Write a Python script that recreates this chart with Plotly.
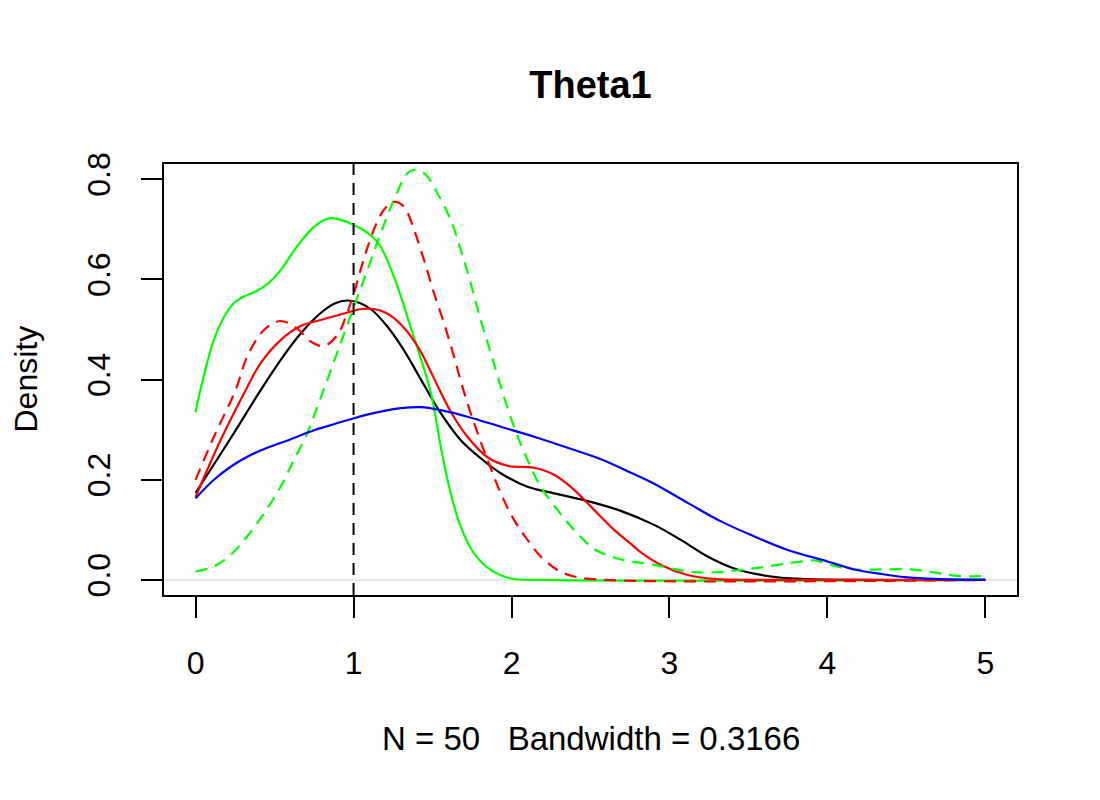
import plotly.graph_objects as go

# ---------------- data ----------------
black_x = [0, 0.222, 0.412, 0.538, 0.665, 0.792, 0.88, 0.96, 1.04, 1.12, 1.214, 1.3, 1.362, 1.425, 1.552,
           1.679, 1.805, 1.932, 2.101, 2.27, 2.502, 2.692, 2.903, 3.072, 3.241, 3.41, 3.62, 3.83, 4.2, 5.0]
black_y = [0.174, 0.283, 0.379, 0.439, 0.492, 0.533, 0.552, 0.558, 0.553, 0.538, 0.506, 0.468, 0.436, 0.401, 0.333,
           0.279, 0.243, 0.213, 0.186, 0.173, 0.156, 0.138, 0.110, 0.080, 0.047, 0.023, 0.008, 0.002, 0.0, 0.0]

red_x = [0, 0.158, 0.317, 0.412, 0.538, 0.665, 0.792, 0.961, 1.05, 1.13, 1.2, 1.256, 1.3, 1.362, 1.425, 1.51,
         1.615, 1.721, 1.848, 1.974, 2.143, 2.27, 2.396, 2.523, 2.65, 2.756, 2.819, 2.946, 3.115,
         3.283, 3.6, 5.0]
red_y = [0.166, 0.279, 0.379, 0.433, 0.479, 0.507, 0.519, 0.534, 0.541, 0.541, 0.534, 0.523, 0.510, 0.487, 0.456,
         0.402, 0.336, 0.286, 0.245, 0.228, 0.224, 0.210, 0.180, 0.140, 0.100, 0.072, 0.055, 0.030,
         0.010, 0.002, 0.0, 0.0]

red_dash_x = [0, 0.116, 0.253, 0.327, 0.433, 0.538, 0.644, 0.729, 0.813, 0.9, 0.95, 1.0, 1.05, 1.1,
              1.15, 1.2, 1.26, 1.32, 1.383, 1.446, 1.51, 1.573, 1.636, 1.689, 1.763, 1.848, 1.932,
              2.016, 2.101, 2.185, 2.291, 2.396, 2.6, 5.0]
red_dash_y = [0.2, 0.286, 0.379, 0.446, 0.499, 0.517, 0.502, 0.476, 0.467, 0.49, 0.525, 0.57, 0.625,
              0.675, 0.715, 0.742, 0.755, 0.745, 0.699, 0.639, 0.572, 0.512, 0.446, 0.386, 0.313,
              0.240, 0.173, 0.120, 0.080, 0.047, 0.020, 0.007, 0.0, 0.0]

green_x = [0, 0.03, 0.116, 0.18, 0.24, 0.30, 0.36, 0.43, 0.496, 0.54, 0.64, 0.75, 0.845, 1.0, 1.15, 1.256,
           1.36, 1.49, 1.552, 1.615, 1.679, 1.763, 1.869, 1.995, 2.2, 5.0]
green_y = [0.335, 0.379, 0.48, 0.525, 0.552, 0.565, 0.573, 0.585, 0.603, 0.619, 0.665, 0.705, 0.722, 0.709,
           0.675, 0.605, 0.506, 0.373, 0.266, 0.173, 0.106, 0.053, 0.020, 0.003, 0.0, 0.0]

green_dash_x = [0, 0.116, 0.222, 0.327, 0.433, 0.538, 0.623, 0.707, 0.771, 0.834, 0.918, 1.003,
                1.088, 1.172, 1.256, 1.341, 1.39, 1.457, 1.531, 1.615, 1.679, 1.742, 1.805, 1.869,
                1.932, 2.016, 2.101, 2.185, 2.291, 2.396, 2.523, 2.65, 2.756, 2.903, 3.115, 3.283,
                3.452, 3.62, 3.79, 3.917, 4.02, 4.17, 4.34, 4.53, 4.677, 4.825, 5.0]
green_dash_y = [0.017, 0.027, 0.050, 0.087, 0.133, 0.186, 0.240, 0.293, 0.346, 0.399, 0.473, 0.546,
                0.619, 0.692, 0.759, 0.812, 0.819, 0.809, 0.772, 0.719, 0.659, 0.592, 0.519, 0.453,
                0.386, 0.306, 0.240, 0.186, 0.140, 0.100, 0.062, 0.045, 0.037, 0.030, 0.017, 0.015,
                0.020, 0.027, 0.035, 0.039, 0.030, 0.021, 0.021, 0.021, 0.015, 0.008, 0.008]

blue_x = [0, 0.116, 0.222, 0.327, 0.454, 0.602, 0.75, 0.876, 1.003, 1.172, 1.3, 1.425, 1.552, 1.721,
          1.932, 2.143, 2.355, 2.566, 2.756, 2.903, 3.115, 3.326, 3.537, 3.748, 4.0, 4.17, 4.34,
          4.51, 4.677, 5.0]
blue_y = [0.163, 0.200, 0.226, 0.246, 0.264, 0.281, 0.299, 0.311, 0.323, 0.336, 0.343, 0.345, 0.339,
          0.326, 0.306, 0.286, 0.264, 0.241, 0.214, 0.192, 0.154, 0.117, 0.087, 0.060, 0.037, 0.021,
          0.012, 0.005, 0.002, 0.0]

true_value = 1
x_ticks = [0, 1, 2, 3, 4, 5]
y_ticks = [0.0, 0.2, 0.4, 0.6, 0.8]
y_tick_labels = ["0.0", "0.2", "0.4", "0.6", "0.8"]
title_text = "Theta1"
x_label = "N = 50   Bandwidth = 0.3166"
y_label = "Density"

FONT = "Liberation Sans, Arial, Helvetica, sans-serif"
DASH = "12px,8px"
LW = 2.2

series = [
    (black_x, black_y, "#000000", "solid"),
    (green_x, green_y, "#00FF00", "solid"),
    (red_x, red_y, "#FF0000", "solid"),
    (green_dash_x, green_dash_y, "#00FF00", DASH),
    (red_dash_x, red_dash_y, "#FF0000", DASH),
    (blue_x, blue_y, "#0000FF", "solid"),
]

fig = go.Figure()
for xs, ys, col, dash in series:
    fig.add_trace(go.Scatter(x=xs, y=ys, mode="lines",
                             line=dict(color=col, width=LW, dash=dash, shape="spline", smoothing=1.0),
                             showlegend=False, hoverinfo="skip"))

fig.add_vline(x=true_value, line=dict(color="black", width=2, dash=DASH))

fig.update_layout(
    width=1100, height=800,
    margin=dict(l=164, r=83, t=164, b=205),
    paper_bgcolor="white", plot_bgcolor="white",
    font=dict(family=FONT, size=32, color="black"),
    title=dict(text="<b>" + title_text + "</b>", x=0.5, xref="paper", xanchor="center",
               y=1 - 85 / 800, yref="container", yanchor="middle",
               font=dict(family=FONT, size=38, color="black")),
    xaxis=dict(range=[-0.2, 5.2], tickvals=x_ticks, ticktext=[str(v) for v in x_ticks],
               showgrid=False, zeroline=False, showline=True, linecolor="black", linewidth=2,
               mirror=True, ticks="outside", ticklen=21, tickwidth=2, tickcolor="black",
               ticklabelstandoff=18, tickfont=dict(size=32)),
    yaxis=dict(range=[-0.030, 0.8305], tickvals=y_ticks, ticktext=y_tick_labels,
               showgrid=False, zeroline=True, zerolinecolor="#E6E6E6", zerolinewidth=2,
               showline=True, linecolor="black", linewidth=2, mirror=True,
               ticks="outside", ticklen=21, tickwidth=2, tickcolor="black", tickangle=-90,
               ticklabelstandoff=18, tickfont=dict(size=32)),
    annotations=[
        dict(text=x_label, xref="paper", yref="paper", x=0.5, y=(595 - 738) / 431,
             xanchor="center", yanchor="middle", showarrow=False, font=dict(size=33)),
        dict(text=y_label, xref="paper", yref="paper", x=(25 - 164) / 853, y=0.5,
             xanchor="center", yanchor="middle", textangle=-90, showarrow=False, font=dict(size=32)),
    ],
)

fig.write_html("out.html")
